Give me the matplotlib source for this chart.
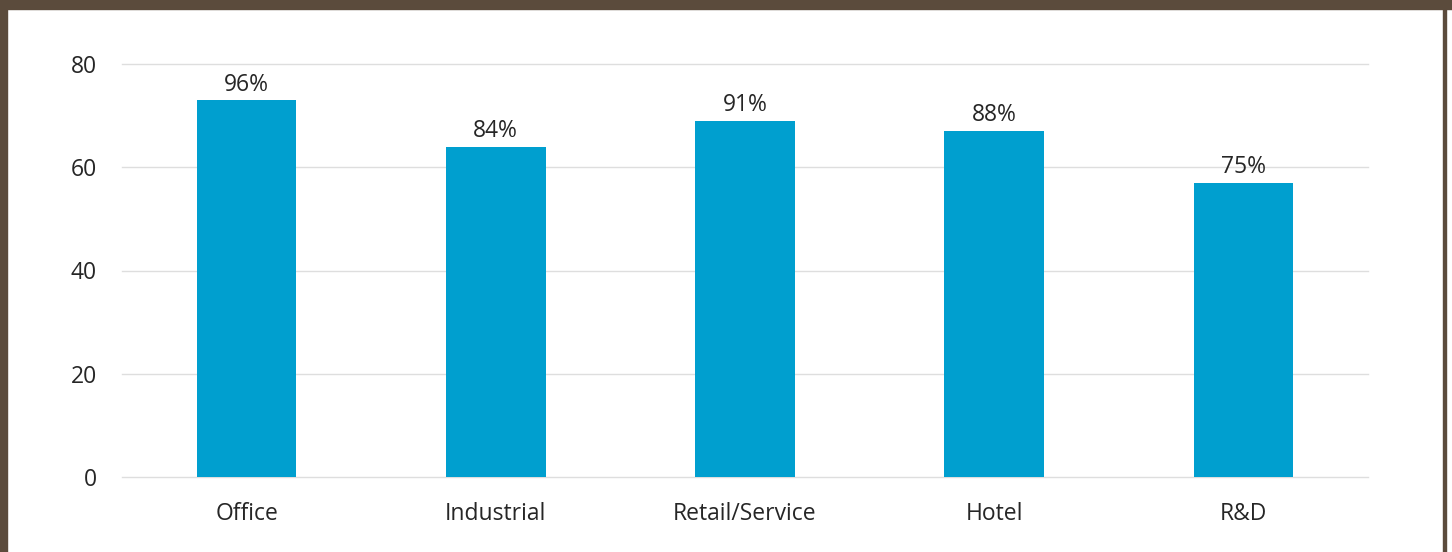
import matplotlib.pyplot as plt
from matplotlib.patches import Rectangle

# 카테고리별 값
categories = ["Office", "Industrial", "Retail/Service", "Hotel", "R&D"]
values = [73, 64, 69, 67, 57]
pct_labels = ["96%", "84%", "91%", "88%", "75%"]
yticks = [0, 20, 40, 60, 80]

plt.rcParams['font.family'] = ['Open Sans', 'DejaVu Sans']

W, H = 1452, 552
fig = plt.figure(figsize=(W / 100, H / 100), dpi=100)
fig.patch.set_facecolor('white')

# 프레임 (상단/좌측/우측 갈색 테두리)
brown = '#5b4b3c'
fig.patches.append(Rectangle((0, 1 - 9 / H), 1, 9 / H, transform=fig.transFigure,
                             color=brown, zorder=0))
fig.patches.append(Rectangle((0, 0), 7 / W, 1, transform=fig.transFigure,
                             color=brown, zorder=0))
fig.patches.append(Rectangle((1443 / W, 0), 2.5 / W, 1 - 9 / H, transform=fig.transFigure,
                             color=brown, zorder=0))

ax = fig.add_axes([122 / W, 1 - 477 / H, (1368 - 122) / W, (477 - 64) / H])
x = range(len(categories))
bars = ax.bar(x, values, width=0.4, color='#009fcf', zorder=3)

fs = 16.5
for b, lab in zip(bars, pct_labels):
    ax.text(b.get_x() + b.get_width() / 2, b.get_height() + 0.7, lab,
            ha='center', va='bottom', fontsize=fs, color='#262626')

ax.set_xlim(-0.5, len(categories) - 0.5)
ax.set_ylim(0, 80)
ax.set_yticks(yticks)
ax.set_xticks(list(x))
ax.set_xticklabels(categories)
ax.grid(axis='y', color='#dedede', linewidth=1.0, zorder=0)
for gl in ax.get_ygridlines():
    gl.set_clip_on(False)  # 0 기준선이 잘리지 않게
for s in ax.spines.values():
    s.set_visible(False)
ax.tick_params(length=0, labelsize=fs, labelcolor='#262626')
ax.tick_params(axis='y', pad=18)
ax.tick_params(axis='x', pad=18)

fig.savefig('out.png', dpi=100)
